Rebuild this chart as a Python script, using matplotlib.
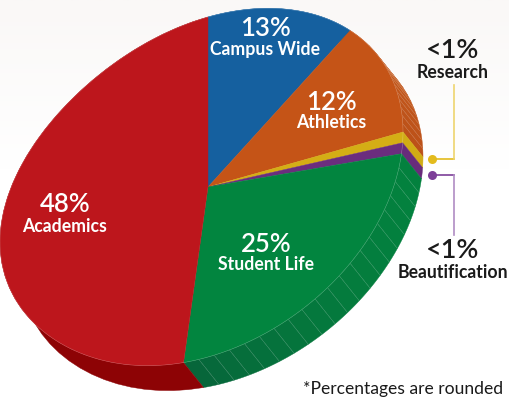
#!/usr/bin/env python3
"""Extruded pie of spending shares, drawn as a sheared circle in pixel coords."""

import numpy as np
import matplotlib
matplotlib.use("Agg")
import matplotlib.pyplot as plt
from matplotlib.colors import LinearSegmentedColormap, to_rgb
from matplotlib.patches import Polygon

names = ["Campus Wide", "Athletics", "Research", "Beautification", "Student Life", "Academics"]
shares = [13, 12, 1, 1, 25, 48]
top_colors = ["#15609f", "#c55417", "#d4ae15", "#6b2d7e", "#02853f", "#bd161c"]
side_near = ["#15609f", "#bb5018", "#c9a514", "#5e2a70", "#07653a", "#8d0305"]
side_far = ["#15609f", "#c55a1d", "#d4ae15", "#6b2d7e", "#03813e", "#8d0305"]
rib_steps = [0, 0.8, 0, 0, 1.25, 0]  # percent between side ribs, 0 = plain

# pie projection, pixels
CENTER = np.array([208.0, 187.0])
AX_RIGHT = 195.0
AX_LEFT = 208.0
AX_SLANT = -55.0
AX_UP = np.array([0.0, -170.0])
DEPTH = np.array([20.0, 25.0])


def rim(pct):
    th = np.radians(np.asarray(pct, dtype=float) * 3.6)
    s, c = np.sin(th), np.cos(th)
    # left half bulges a little further than the right, eased in to avoid a kink
    wide = AX_RIGHT + (AX_LEFT - AX_RIGHT) * np.where(s < 0, s ** 2, 0.0)
    x = CENTER[0] + wide * s + AX_UP[0] * c
    y = CENTER[1] + AX_SLANT * s + AX_UP[1] * c
    return np.column_stack([x, y])


def blend(a, b, t):
    a, b = np.array(to_rgb(a)), np.array(to_rgb(b))
    return tuple(a + (b - a) * t)


fig = plt.figure(figsize=(5.1, 4.04), dpi=100)
ax = fig.add_axes([0, 0, 1, 1])
ax.set_xlim(0, 510)
ax.set_ylim(404, 0)
ax.axis("off")

plt.rcParams["font.family"] = ["Lato", "DejaVu Sans"]

# faint paper tone fading out downwards
paper = LinearSegmentedColormap.from_list("paper", ["#faf8f7", "#ffffff"])
ax.imshow(np.linspace(0, 1, 64)[:, None], cmap=paper, aspect="auto",
          extent=(0, 510, 170, 0), zorder=0)
ax.set_xlim(0, 510)
ax.set_ylim(404, 0)

starts = np.cumsum([0] + shares[:-1])

# sides first, the top faces cover whatever is hidden
for i in range(len(shares)):
    a, b = starts[i], starts[i] + shares[i]
    n = max(int(round(shares[i] / rib_steps[i])), 1) if rib_steps[i] else 1
    edges = np.linspace(a, b, n + 1)
    for j in range(n):
        arc = rim(np.linspace(edges[j], edges[j + 1], 40 if n == 1 else 6))
        quad = np.vstack([arc, arc[::-1] + DEPTH])
        col = blend(side_far[i], side_near[i], ((j + 0.5) / n) ** 2)
        ax.add_patch(Polygon(quad, closed=True, fc=col, ec=col, lw=0.3, zorder=2))
        if rib_steps[i] and j > 0:
            p = rim(np.array([edges[j]]))[0]
            ax.plot([p[0], p[0] + DEPTH[0]], [p[1], p[1] + DEPTH[1]],
                    color="white", alpha=0.2, lw=0.4, zorder=3)

# top faces
for i in range(len(shares)):
    a, b = starts[i], starts[i] + shares[i]
    arc = rim(np.linspace(a, b, max(int(shares[i] * 4), 8)))
    ax.add_patch(Polygon(np.vstack([CENTER, arc]), closed=True,
                         fc=top_colors[i], ec=top_colors[i], lw=0.3, zorder=4))
    ax.plot(arc[:, 0], arc[:, 1], color="white", alpha=0.25, lw=0.4, zorder=5)

# slice labels
labels = [
    ("13%", "Campus Wide", 265, 29, 50, "white", 18.5),
    ("12%", "Athletics", 331, 102, 122, "white", 18.5),
    ("25%", "Student Life", 266, 244, 264, "white", 18.5),
    ("48%", "Academics", 65, 204, 226, "white", 18.5),
    ("<1%", "Research", 453, 51, 72, "#1a1a1a", 19.5),
    ("<1%", "Beautification", 453, 251, 272, "#1a1a1a", 19.5),
]
for pct, name, x, y1, y2, col, size in labels:
    ax.text(x, y1, pct, color=col, fontsize=size, fontweight="semibold", ha="center", va="center", zorder=6)
    ax.text(x, y2, name, color=col, fontsize=12.7, fontweight="bold", ha="center", va="center", zorder=6)

# callouts
ax.plot([432, 454], [159, 159], color="#e3bb1d", lw=1.2, zorder=6)
ax.plot([454, 454], [159, 85], color="#eed56f", lw=1.2, zorder=6)
ax.plot([432], [159], "o", ms=6.5, color="#e3bb1d", mew=0, zorder=7)
ax.plot([432, 454], [175, 175], color="#7d3f98", lw=1.2, zorder=6)
ax.plot([454, 454], [175, 235], color="#b08cc4", lw=1.2, zorder=6)
ax.plot([432], [175], "o", ms=6.5, color="#7d3f98", mew=0, zorder=7)

ax.text(503, 389, "*Percentages are rounded", color="#1a1a1a", fontsize=12.6,
        ha="right", va="center", zorder=6)

fig.savefig("out.png", dpi=100)
